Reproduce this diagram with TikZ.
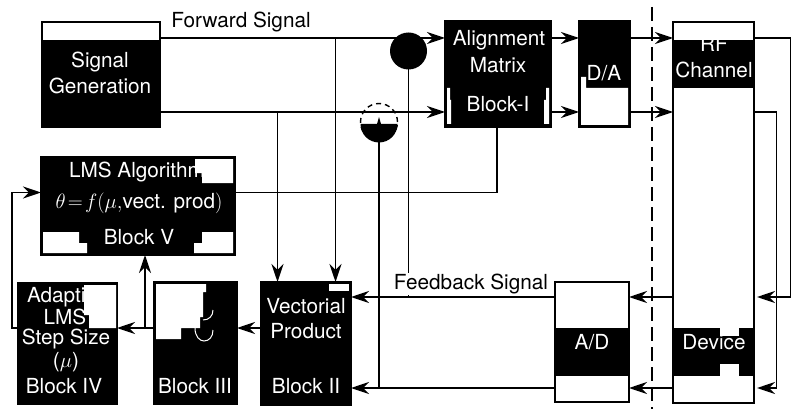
\documentclass[tikz,border=0pt]{standalone}
\usepackage{fontspec}
\setmainfont{TeX Gyre Heros}
\usetikzlibrary{arrows.meta}
\tikzset{
    blockbox/.style={draw, fill=black, line width=1.6pt, outer sep=0pt, inner sep=0pt, anchor=north west},
    emptybox/.style={blockbox, fill=white},
    blocklabel/.style={font=\fontsize{20.74}{25}\selectfont, text=white, anchor=base, inner sep=0pt},
    plainlabel/.style={blocklabel, text=black},
    sigline/.style={line width=1.8pt},
    sigarrow/.style={sigline, -{Stealth[length=18pt, width=12pt, inset=6pt]}},
    patch/.style={fill=white, draw=none},
    dotnode/.style={circle, inner sep=0pt, minimum size=37pt, outer sep=0pt},
}
\begin{document}
\begin{tikzpicture}[x=1pt, y=-1pt]
    \useasboundingbox (0,0) rectangle (795,409);

    % -- the blocks ------------------------------------------------------------
    \foreach \nm/\x/\y/\w/\h in {siggen/42/22/118/105, lms/41/157/194/98, align/445/21/106/106,
        dac/579/21/51/106, vecprod/261/282/90/123, blockthree/154/282/83/122, blockfour/18/283/99/121} {
        \node[blockbox, minimum width=\w pt, minimum height=\h pt] (\nm) at (\x,\y) {};
    }
    \node[emptybox, minimum width=81pt, minimum height=381pt] (rf) at (673,22) {};
    \node[emptybox, minimum width=74pt, minimum height=120pt] (adc) at (555,282) {};

    % -- black bands in the white boxes ----------------------------------------
    \fill (673,40) rectangle (754,88);
    \fill (673,328) rectangle (754,376);
    \fill (555,328) rectangle (629,376);

    % -- texts -----------------------------------------------------------------
    \node[blocklabel] (siga) at (100,68) {Signal};
    \node[blocklabel] (sigb) at (100,94) {Generation};
    \node[blocklabel] (lmsa) at (137,178) {LMS Algorithm};
    \node[blocklabel] (lmsb) at (139,208) {\thickmuskip=2mu $\theta = f(\mu,$vect. prod$)$};
    \node[blocklabel] (lmsc) at (139,244) {Block V};
    \node[blocklabel] (ala) at (499,46) {Alignment};
    \node[blocklabel] (alb) at (498,73) {Matrix};
    \node[blocklabel] (alc) at (498,112) {Block-I};
    \node[blocklabel] (dactext) at (604,81) {D/A};
    \node[blocklabel] (rfa) at (714,52) {RF};
    \node[blocklabel] (rfb) at (714,78) {Channel};
    \node[blocklabel] (veca) at (306,313) {Vectorial};
    \node[blocklabel] (vecb) at (306,338) {Product};
    \node[blocklabel] (vecc) at (306,393) {Block II};
    \node[blocklabel] (thrc) at (195,393) {Block III};
    \node[blocklabel] (foua) at (67,302) {Adaptive};
    \node[blocklabel] (foub) at (65,324) {LMS};
    \node[blocklabel] (fouc) at (66,344) {Step Size};
    \node[blocklabel] (foud) at (66,367) {($\mu$)};
    \node[blocklabel] (foue) at (64,393) {Block IV};
    \node[blocklabel] (devtext) at (714,349) {Device};
    \node[blocklabel] (adctext) at (592,349) {A/D};

    % -- white patches over the black ------------------------------------------
    \fill[patch] (43,23) rectangle (159,40);
    \fill[patch] (195,159) -- (233,159) -- (233,183) -- (202,183) -- (202,173) -- (195,173) -- cycle;
    \fill[patch] (43,232) -- (79,232) -- (79,243) -- (87,243) -- (87,253) -- (43,253) -- cycle;
    \fill[patch] (202,232) -- (233,232) -- (233,253) -- (194,253) -- (194,243) -- (202,243) -- cycle;
    \fill[patch] (447,88) -- (450,88) -- (450,100) -- (451,100) -- (451,124) -- (447,124) -- cycle;
    \fill[patch] (546,88) -- (549,88) -- (549,124) -- (544,124) -- (544,100) -- (546,100) -- cycle;
    \fill[patch] (581,77) -- (586,77) -- (586,88) -- (628,88) -- (628,125) -- (581,125) -- cycle;
    \fill[patch] (674,23) rectangle (753,40);
    \fill[patch] (720,328) rectangle (739,336);
    \fill[patch] (720,364) rectangle (739,376);
    \fill[patch] (329,284) rectangle (349,291);
    \fill[patch] (156,284) -- (206,284) -- (206,292) -- (203,292) -- (203,317) -- (200,317) -- (200,328)
        -- (181,328) -- (181,339) -- (156,339) -- cycle;
    \fill[patch] (84,285) -- (116,285) -- (116,328) -- (89,328) -- (89,315) -- (84,315) -- cycle;

    % -- leftovers of the covered text in block III ----------------------------
    \draw[white, line width=1pt] (203,320) .. controls (209,320) and (213,316) .. (213,310);
    \draw[white, line width=1pt] (195,328) .. controls (195,337) and (200,341) .. (204,341)
        .. controls (209,341) and (213,337) .. (213,330);

    % -- rails for the signal lines --------------------------------------------
    \coordinate (railtop) at (0,38);
    \coordinate (railmid) at (0,112);
    \coordinate (railerr) at (0,192.5);
    \coordinate (railfba) at (0,297);
    \coordinate (railfbb) at (0,388);
    \coordinate (railpro) at (0,328);
    \coordinate (tapa) at (335.5,0);
    \coordinate (tapb) at (277.5,0);
    \coordinate (outa) at (790.5,0);
    \coordinate (outb) at (776.5,0);
    \coordinate (backleft) at (12,0);
    \coordinate (upline) at (145,0);

    % -- forward path ----------------------------------------------------------
    \draw[sigarrow] (siggen.east |- railtop) -- (align.west |- railtop);
    \draw[sigarrow] (siggen.east |- railmid) -- (align.west |- railmid);
    \draw[sigarrow] (tapa |- railtop) -- (tapa |- vecprod.north);
    \draw[sigarrow] (tapb |- railmid) -- (tapb |- vecprod.north);
    \draw[sigarrow] (align.east |- railtop) -- (dac.west |- railtop);
    \draw[sigarrow] (align.east |- railmid) -- (dac.west |- railmid);
    \draw[sigarrow] (dac.east |- railtop) -- (rf.west |- railtop);
    \draw[sigarrow] (dac.east |- railmid) -- (rf.west |- railmid);

    % -- the two dots ----------------------------------------------------------
    \node[dotnode, fill=black] (dota) at (408.5,51) {};
    \node[dotnode, draw, dashed, dash pattern=on 5pt off 4pt, line width=1.4pt] (dotb) at (379,122) {};
    \fill (dotb.west |- 0,124) arc[start angle=180, end angle=360, radius=18.5pt]
        -- (381,124) -- (379,117) -- (377,124) -- cycle;

    % -- device outputs and feedback path --------------------------------------
    \draw[sigarrow] (rf.east |- railtop) -| (outa |- railfba) -- (757,297);
    \draw[sigarrow] (rf.east |- railmid) -| (outb |- railfbb) -- (757,388);
    \draw[sigarrow] (rf.west |- railfba) -- (adc.east |- railfba);
    \draw[sigarrow] (rf.west |- railfbb) -- (adc.east |- railfbb);
    \draw[sigarrow] (adc.west |- railfba) -- (vecprod.east |- railfba);
    \draw[sigarrow] (adc.west |- railfbb) -- (vecprod.east |- railfbb);
    \draw[sigline] (dota.south) -- (dota |- railfba);
    \draw[sigline] (dotb.south) -- (dotb |- railfbb);

    % -- adaptation loop -------------------------------------------------------
    \draw[sigarrow] (vecprod.west |- railpro) -- (blockthree.east |- railpro);
    \draw[sigarrow] (blockthree.west |- railpro) -- (blockfour.east |- railpro);
    \draw[sigarrow] (upline |- railpro) -- (upline |- lms.south);
    \draw[sigarrow] (blockfour.west |- railpro) -| (backleft |- railerr) -- (lms.west |- railerr);
    \draw[sigline] (lms.east |- railerr) -| (align.south -| 497,0);

    % -- dashed separator ------------------------------------------------------
    \draw[line width=2pt, dash pattern=on 14pt off 6pt] (651.5,7) -- (651.5,409);

    % -- signal names ----------------------------------------------------------
    \node[plainlabel] (fwdlabel) at (241,28) {Forward Signal};
    \node[plainlabel, fill=white, inner sep=1pt] (fbklabel) at (471,289) {Feedback Signal};
\end{tikzpicture}
\end{document}
